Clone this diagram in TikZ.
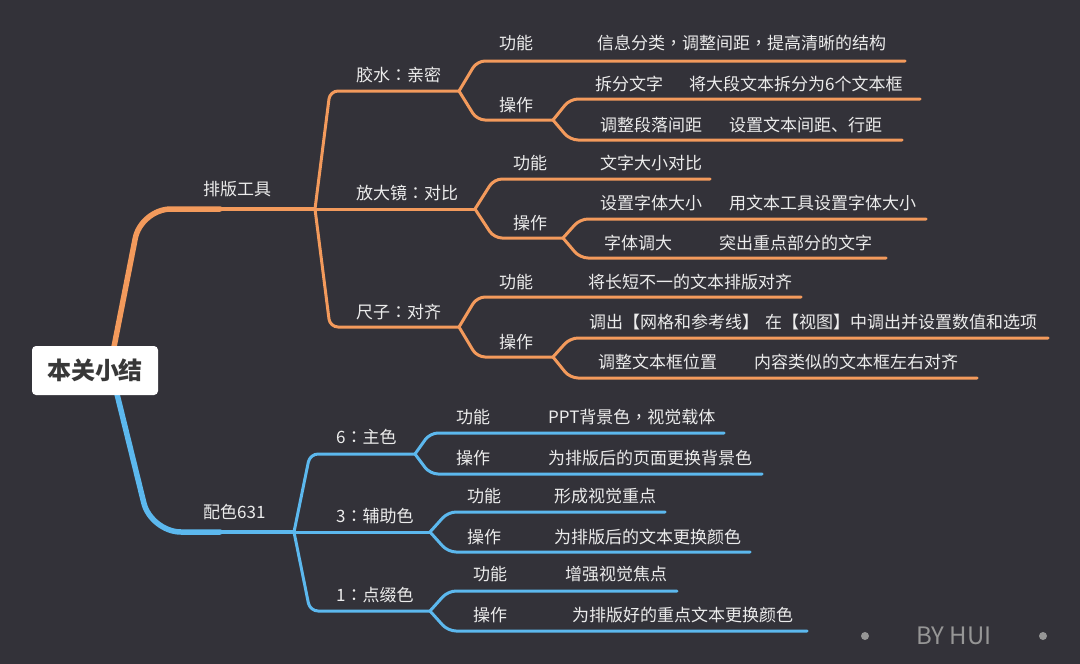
\documentclass[tikz,border=0pt]{standalone}
\usepackage{fontspec}
\setmainfont{Noto Sans CJK SC}
\newfontfamily\tcpunct{Noto Sans CJK TC}
\newcommand{\colonc}{{\tcpunct ：}}
\newcommand{\commac}{{\tcpunct ，}}
\definecolor{mmbg}{RGB}{51,50,57}
\definecolor{mmorange}{RGB}{243,154,92}
\definecolor{mmblue}{RGB}{92,184,238}
\definecolor{mmtext}{RGB}{236,236,236}
\definecolor{mmgray}{RGB}{150,150,150}
\usetikzlibrary{positioning}

\begin{document}
\begin{tikzpicture}[x=1pt,y=-1pt,
  oline/.style={mmorange,line width=3pt,rounded corners=8pt,line cap=round},
  bline/.style={mmblue,line width=3pt,rounded corners=8pt,line cap=round},
  topic/.style={font=\fontsize{17}{20}\selectfont,text=mmtext,anchor=west,inner sep=0pt},
  rootbox/.style={fill=white,rounded corners=4pt,minimum width=126pt,minimum height=49pt,font=\fontsize{24}{28}\selectfont\bfseries,text=black!78}]
  % Background
  \fill[mmbg] (0,0) rectangle (1080,664);
  \useasboundingbox (0,0) rectangle (1080,664);
  % Junctions
  \coordinate (pb) at (315,209);
  \coordinate (gs) at (459,91);
  \coordinate (fd) at (475,209);
  \coordinate (cz) at (459,327);
  \coordinate (gsop) at (553,120);
  \coordinate (fdop) at (563,238);
  \coordinate (czop) at (553,357);
  \coordinate (ps) at (294,532);
  \coordinate (zs) at (415,454);
  \coordinate (fz) at (430,532);
  \coordinate (dz) at (430,611);
  % Main branches
  \draw[mmorange,line width=5.5pt,rounded corners=30pt,line cap=round] (113,352) -- (141,209) -- (220,209);
  \draw[mmorange,line width=4pt] (218,209) -- (pb);
  \draw[mmblue,line width=5.5pt,rounded corners=30pt,line cap=round] (116,390) -- (151,532) -- (220,532);
  \draw[mmblue,line width=3.5pt] (218,532) -- (ps);
  % Typesetting tools
  \draw[oline] (pb) -- (330,91) -- (gs);
  \draw[oline] (pb) -- (fd);
  \draw[oline] (pb) -- (330,327) -- (cz);
  % Glue: closeness
  \draw[oline] (gs) -- (477,61) -- (905,61);
  \draw[oline] (gs) -- (477,120) -- (gsop);
  \draw[oline] (gsop) -- (570,99) -- (920,99);
  \draw[oline] (gsop) -- (570,140) -- (902,140);
  % Magnifier: contrast
  \draw[oline] (fd) -- (494,179) -- (710,179);
  \draw[oline] (fd) -- (494,238) -- (fdop);
  \draw[oline] (fdop) -- (580,219) -- (926,219);
  \draw[oline] (fdop) -- (580,258) -- (886,258);
  % Ruler: alignment
  \draw[oline] (cz) -- (477,297) -- (801,297);
  \draw[oline] (cz) -- (477,357) -- (czop);
  \draw[oline] (czop) -- (570,338) -- (1048,338);
  \draw[oline] (czop) -- (570,378) -- (977,378);
  % Colour 631
  \draw[bline] (ps) -- (310,454) -- (zs);
  \draw[bline] (ps) -- (fz);
  \draw[bline] (ps) -- (310,611) -- (dz);
  \draw[bline] (zs) -- (430,433) -- (724,433);
  \draw[bline] (zs) -- (430,474) -- (762,474);
  \draw[bline] (fz) -- (448,512) -- (665,512);
  \draw[bline] (fz) -- (448,552) -- (750,552);
  \draw[bline] (dz) -- (448,591) -- (677,591);
  \draw[bline] (dz) -- (448,631) -- (807,631);
  % Root
  \node[rootbox] (root) at (95,370.5) {本关小结};
  % Labels, typesetting
  \node[topic] (pbt) at (203,189) {排版工具};
  \node[topic] (gst) at (356,75) {胶水\colonc 亲密};
  \node[topic] (fdt) at (356,193) {放大镜\colonc 对比};
  \node[topic] (czt) at (356,312) {尺子\colonc 对齐};
  \node[topic] (gsgn) at (499,43) {功能};
  \node[topic] (gsgnx) at (597,43) {信息分类\commac 调整间距\commac 提高清晰的结构};
  \node[topic] (gsczt) at (499,105) {操作};
  \node[topic] (gsa) at (595,84) {拆分文字};
  \node[topic] (gsax) at (689,84) {将大段文本拆分为6个文本框};
  \node[topic] (gsb) at (600,125) {调整段落间距};
  \node[topic] (gsbx) at (729,125) {设置文本间距、行距};
  \node[topic] (fdgn) at (513,163) {功能};
  \node[topic] (fdgnx) at (600,163) {文字大小对比};
  \node[topic] (fdczt) at (513,223) {操作};
  \node[topic] (fda) at (600,203) {设置字体大小};
  \node[topic] (fdax) at (729,203) {用文本工具设置字体大小};
  \node[topic] (fdb) at (604,243) {字体调大};
  \node[topic] (fdbx) at (719,243) {突出重点部分的文字};
  \node[topic] (czgn) at (499,282) {功能};
  \node[topic] (czgnx) at (588,282) {将长短不一的文本排版对齐};
  \node[topic] (czczt) at (499,342) {操作};
  \node[topic] (cza) at (589,322) {调出【网格和参考线】};
  \node[topic] (czax) at (765,322) {在【视图】中调出并设置数值和选项};
  \node[topic] (czb) at (598,362) {调整文本框位置};
  \node[topic] (czbx) at (754,362) {内容类似的文本框左右对齐};
  % Labels, colour
  \node[topic] (pst) at (203,512) {配色631};
  \node[topic] (zst) at (336,437) {6\colonc 主色};
  \node[topic] (fzt) at (336,516) {3\colonc 辅助色};
  \node[topic] (dzt) at (336,595) {1\colonc 点缀色};
  \node[topic] (zsgn) at (456,417) {功能};
  \node[topic] (zsgnx) at (548,417) {PPT背景色\commac 视觉载体};
  \node[topic] (zscz) at (456,458) {操作};
  \node[topic] (zsczx) at (548,458) {为排版后的页面更换背景色};
  \node[topic] (fzgn) at (467,496) {功能};
  \node[topic] (fzgnx) at (554,496) {形成视觉重点};
  \node[topic] (fzcz) at (467,537) {操作};
  \node[topic] (fzczx) at (554,537) {为排版后的文本更换颜色};
  \node[topic] (dzgn) at (473,574) {功能};
  \node[topic] (dzgnx) at (565,574) {增强视觉焦点};
  \node[topic] (dzcz) at (473,615) {操作};
  \node[topic] (dzczx) at (572,615) {为排版好的重点文本更换颜色};
  % Signature
  \fill[mmgray] (865,636) circle (4);
  \fill[mmgray] (1043,636) circle (4);
  \node[font=\fontsize{24}{28}\selectfont,text=mmgray,inner sep=0pt] (sig) at (954,636) {BY HUI};
\end{tikzpicture}
\end{document}
